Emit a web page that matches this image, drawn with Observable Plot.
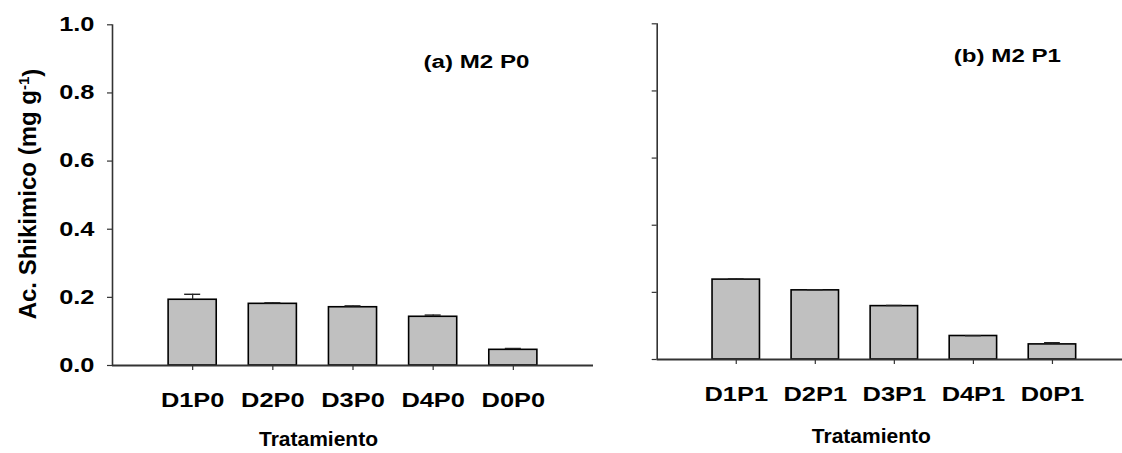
<!DOCTYPE html>
<html>
<head>
<meta charset="utf-8">
<script src="https://cdn.jsdelivr.net/npm/d3@7"></script>
<script src="https://cdn.jsdelivr.net/npm/@observablehq/plot@0.6"></script>
<style>
  html, body { margin: 0; padding: 0; background: #fff; overflow: hidden; }
  #wrap { position: relative; width: 1122px; height: 453px; overflow: hidden; }
  #wrap svg { position: absolute; top: 0; font-family: "Liberation Sans", Arial, sans-serif; font-weight: bold; overflow: visible; }
  #wrap svg text { fill: #000; }
</style>
</head>
<body>
<div id="wrap"></div>
<script>
// Shikimic acid content per treatment, panel (a) M2 P0
const treatmentsP0 = ["D1P0", "D2P0", "D3P0", "D4P0", "D0P0"];
const shikimicP0 = [0.193, 0.181, 0.171, 0.143, 0.046];
const errorP0 = [0.016, 0.003, 0.004, 0.005, 0.004];

// Panel (b) M2 P1
const treatmentsP1 = ["D1P1", "D2P1", "D3P1", "D4P1", "D0P1"];
const shikimicP1 = [0.238, 0.206, 0.159, 0.070, 0.045];
const errorP1 = [0.002, 0.002, 0.002, 0.001, 0.005];

const yTicks = [0, 0.2, 0.4, 0.6, 0.8, 1.0];
const titleA = "(a) M2 P0";
const titleB = "(b) M2 P1";
const xTitle = "Tratamiento";

const STRETCH = 1.27; // horizontal widening of the bold tick labels and panel titles

function panel(o) {
  const rows = o.cats.map((c, i) => ({cat: c, pos: i + 1, value: o.vals[i], err: o.errs[i]}));
  const chart = Plot.plot({
    width: o.width,
    height: 453,
    marginLeft: o.marginLeft,
    marginRight: o.marginRight,
    marginTop: o.marginTop,
    marginBottom: o.marginBottom,
    style: {background: "transparent", overflow: "visible"},
    x: {domain: [0, 6], axis: null},
    y: {domain: [0, 1], axis: null},
    marks: [
      Plot.rectY(rows, {x1: d => d.pos - 0.3, x2: d => d.pos + 0.3, y1: 0, y2: "value",
        fill: "#c0c0c0", stroke: "#000", strokeWidth: 1.6}),
      Plot.ruleX(rows, {x: "pos", y1: "value", y2: d => d.value + d.err, stroke: "#222", strokeWidth: 1.2}),
      Plot.ruleY(rows, {y: d => d.value + d.err, x1: d => d.pos - 0.1, x2: d => d.pos + 0.1, stroke: "#222", strokeWidth: 1.4}),
      Plot.ruleX([0], {stroke: "#333", strokeWidth: 1.6}),
      Plot.ruleY([0], {stroke: "#333", strokeWidth: 1.8}),
      Plot.axisY({ticks: yTicks, tickSize: 5, tickPadding: 13, stroke: "#333", strokeWidth: 1.2,
        tickFormat: o.yLabels ? d3.format(".1f") : () => "", fontSize: 20, label: null}),
      Plot.axisX({ticks: rows.map(d => d.pos), tickFormat: p => o.cats[p - 1], tickSize: 5, tickPadding: 22,
        stroke: "#333", strokeWidth: 1.2, fontSize: 20, label: null}),
      Plot.text([o.title], {x: o.titleX, y: o.titleY, text: d => d, fontSize: 19, fontWeight: "bold"}),
      Plot.text([xTitle], {frameAnchor: "bottom", dx: o.xTitleDx, dy: o.xTitleDy, lineAnchor: "top",
        text: d => d, fontSize: 21, fontWeight: "bold"})
    ]
  });
  chart.style.left = o.left + "px";
  // widen the tick labels and the panel title about their own anchor point
  chart.querySelectorAll('g[aria-label="x-axis tick label"] text, g[aria-label="y-axis tick label"] text, g[aria-label="text"] text')
    .forEach(t => {
      if (t.textContent === xTitle) return;
      const tr = t.getAttribute("transform") || "";
      const x = +(t.getAttribute("x") || 0);
      t.setAttribute("transform", `${tr} translate(${x},0) scale(${STRETCH},1) translate(${-x},0)`);
    });
  document.getElementById("wrap").appendChild(chart);
  return chart;
}

const left = panel({
  cats: treatmentsP0, vals: shikimicP0, errs: errorP0,
  left: 0, width: 600, marginLeft: 112, marginRight: 7, marginTop: 24.3, marginBottom: 88,
  yLabels: true, title: titleA, titleX: 4.54, titleY: 0.892, xTitleDx: -34.5, xTitleDy: 66
});

panel({
  cats: treatmentsP1, vals: shikimicP1, errs: errorP1,
  left: 600, width: 531, marginLeft: 56.7, marginRight: 0, marginTop: 23.3, marginBottom: 94,
  yLabels: false, title: titleB, titleX: 4.43, titleY: 0.903, xTitleDx: -23, xTitleDy: 69
});

// y-axis title with superscript unit exponent
const yl = d3.select(left).append("text")
  .attr("transform", "translate(35.7,194) rotate(-90)")
  .attr("text-anchor", "middle")
  .style("font-size", "24px")
  .style("font-weight", "bold");
yl.append("tspan").text("Ac. Shikimico (mg g");
yl.append("tspan").attr("dy", "-0.45em").style("font-size", "15px").text("-1");
yl.append("tspan").attr("dy", "0.45em").text(")");
</script>
</body>
</html>
